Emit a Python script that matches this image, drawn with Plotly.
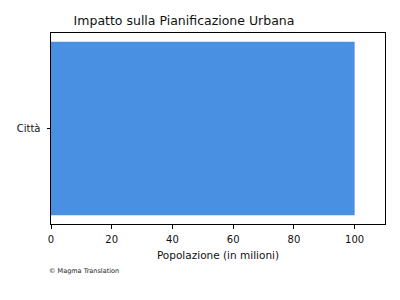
import plotly.graph_objects as go

categories = ["Città"]
values = [100]

fig = go.Figure(go.Bar(
    y=categories, x=values, orientation="h",
    marker=dict(color="#4a90e2", line=dict(width=0)),
    width=0.8,
))

fig.update_layout(
    width=400, height=300,
    margin=dict(l=51, r=15, t=33, b=76),
    paper_bgcolor="white", plot_bgcolor="white",
    font=dict(family="DejaVu Sans", color="black", size=10),
    showlegend=False,
    title=dict(text="Impatto sulla Pianificazione Urbana", x=184/400, xanchor="center",
               y=1 - 21/300, yanchor="middle", font=dict(size=12.5, color="#111111")),
    xaxis=dict(range=[0, 110], tickvals=[0, 20, 40, 60, 80, 100],
               showgrid=False, zeroline=False, showline=True, linecolor="black", linewidth=1,
               mirror=True, ticks="outside", ticklen=3.5, tickcolor="black",
               ticklabelstandoff=2,
               title=dict(text="Popolazione (in milioni)", font=dict(size=10.5, color="#111111"), standoff=8),
               tickfont=dict(size=10, color="#111111")),
    yaxis=dict(range=[-0.44, 0.44], showgrid=False, zeroline=False, showline=True,
               linecolor="black", linewidth=1, mirror=True, ticks="outside", ticklen=3.5,
               tickcolor="black", ticklabelstandoff=4, tickfont=dict(size=10, color="#111111")),
    annotations=[dict(text="© Magma Translation", xref="paper", yref="paper",
                      x=(47-51)/334, y=-(271-224)/191, xanchor="left", yanchor="middle",
                      showarrow=False, font=dict(size=6.5, color="#222222"))],
)

fig.write_html("out.html")
